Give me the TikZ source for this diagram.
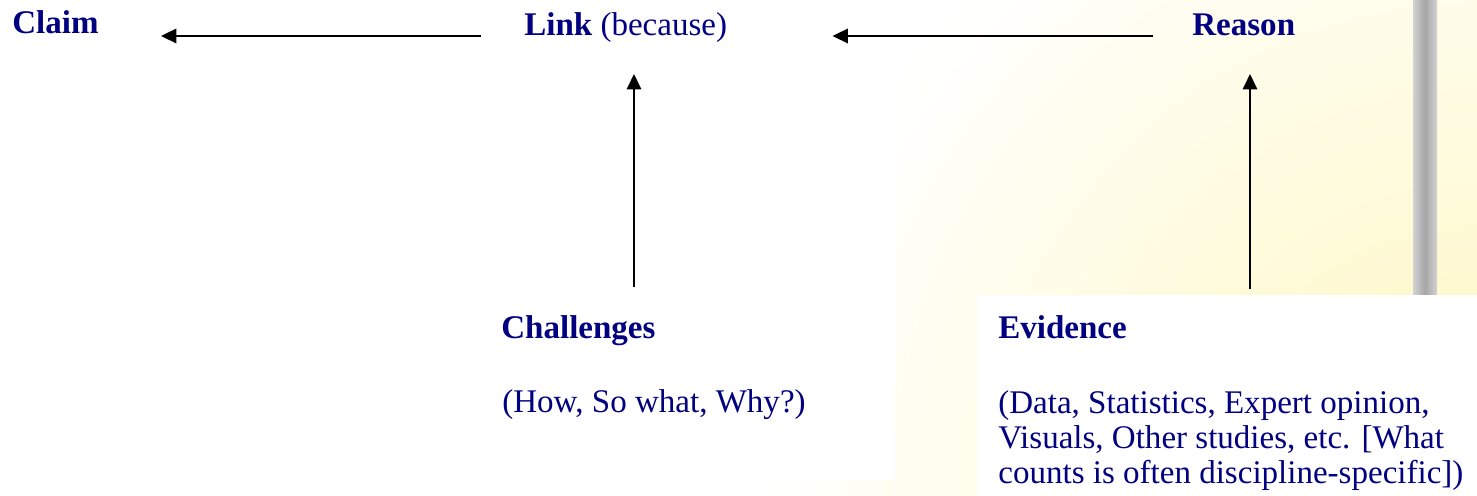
\documentclass[tikz,border=0pt]{standalone}
\usepackage{fontspec}
\setmainfont{Liberation Serif}
\usepackage{tikz}
\usetikzlibrary{arrows.meta,positioning}
\definecolor{navytext}{RGB}{0,0,128}
\definecolor{cream}{RGB}{255,247,190}

\begin{document}
\begin{tikzpicture}[x=0.02cm,y=-0.02cm,
  lbl/.style={anchor=base west,inner sep=0pt,text=navytext,font=\fontsize{18.8pt}{19.8pt}\selectfont},
  arr/.style={line width=1.1pt,-{Triangle[length=3.1mm,width=2.9mm]}}]
\useasboundingbox (0,0) rectangle (1477,496);
\begin{scope}
\clip (700,0) rectangle (1477,496);
\shade[inner color=cream,outer color=white] (1477,496) circle (720);
\end{scope}
\fill[white] (700,0) rectangle (895,480);
\fill[white] (977,295) rectangle (1477,496);
\shade[left color=gray!35,right color=gray!35,middle color=gray!70] (1413,0) rectangle (1437,295);
\node[lbl] (claim) at (12,34) {\textbf{Claim}};
\node[lbl] (link) at (524,36) {\textbf{Link} (because)};
\node[lbl] (reason) at (1192,36) {\textbf{Reason}};
\node[lbl] (chal) at (501,338) {\textbf{Challenges}};
\node[lbl] (chalnote) at (502,413) {(How, So what, Why?)};
\node[lbl] (evid) at (998,338) {\textbf{Evidence}};
\node[lbl,align=left] (evidnote) at (998,483) {(Data, Statistics, Expert opinion,\\Visuals, Other studies, etc. [What\\counts is often discipline-specific])};
\draw[arr]([shift={(-43,0)}]link.base west)--([shift={(62,2)}]claim.base east);
\draw[arr]([shift={(-39,0)}]reason.base west)--([shift={(105,0)}]link.base east);
\draw[arr]([shift={(133,-51)}]chal.base west)--([shift={(110,38)}]link.base west);
\draw[arr]([shift={(252,-49)}]evid.base west)--([shift={(58,38)}]reason.base west);
\end{tikzpicture}
\end{document}
